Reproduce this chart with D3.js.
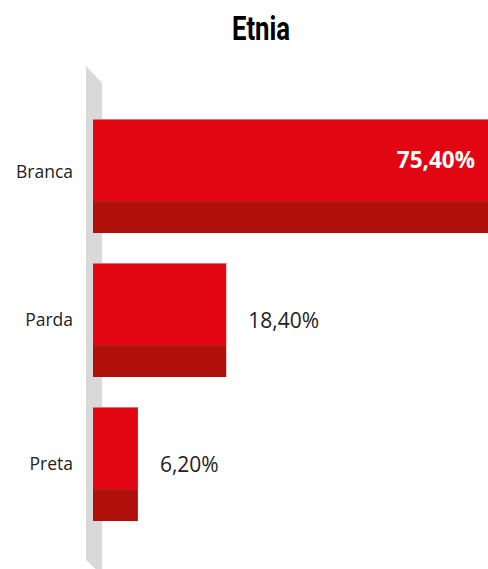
<!DOCTYPE html>
<html><head><meta charset="utf-8">
<script src="https://cdn.jsdelivr.net/npm/d3@7"></script>
<style>html,body{margin:0;padding:0;background:#fff;overflow:hidden}</style>
</head><body>
<script>
const categories = ["Branca", "Parda", "Preta"];
const values = [75.4, 18.4, 6.2];
const labels = ["75,40%", "18,40%", "6,20%"];
const title = "Etnia";

const W = 488, H = 569;
const svg = d3.select("body").append("svg").attr("width", W).attr("height", H);

const x = d3.scaleLinear().domain([0, 100]).range([93, 817]);
const y = d3.scaleBand().domain(categories).range([104, 536]).paddingInner(30/144).paddingOuter(15/144);

// wall
svg.append("path")
  .attr("d", "M86,66 L102,83 L102,575 L86,560 Z")
  .attr("fill", "#d9d9d9");

svg.append("text").attr("transform", "translate(261,40) scale(0.78,1)").attr("text-anchor", "middle")
  .attr("font-family", "'Roboto', 'Liberation Sans', sans-serif")
  .attr("font-weight", "bold").attr("font-size", 33).attr("fill", "#000").text(title);

const bw = y.bandwidth();
const topH = bw * 0.72;
const g = svg.selectAll("g.bar").data(categories).enter().append("g");
g.append("rect").attr("x", x(0)).attr("y", d => y(d))
  .attr("width", (d, i) => x(values[i]) - x(0)).attr("height", topH).attr("fill", "#e20613");
g.append("rect").attr("x", x(0)).attr("y", d => y(d) + topH)
  .attr("width", (d, i) => x(values[i]) - x(0)).attr("height", bw - topH).attr("fill", "#b0100c");
g.append("rect").attr("x", x(0)).attr("y", d => y(d))
  .attr("width", (d, i) => x(values[i]) - x(0)).attr("height", 1).attr("fill", "#ee6a72");

// category labels
svg.selectAll("text.cat").data(categories).enter().append("text")
  .attr("x", 73).attr("y", (d, i) => y(d) + bw / 2 + 6 - (i === 0 ? 4 : 0))
  .attr("text-anchor", "end")
  .attr("font-family", "'Open Sans', sans-serif").attr("font-size", 17.5).attr("fill", "#222")
  .text(d => d);

// value labels
svg.selectAll("text.val").data(categories).enter().append("text")
  .attr("x", (d, i) => x(values[i]) > W ? 475 : x(values[i]) + 22)
  .attr("y", d => y(d) + (y(d) === y(categories[0]) ? 49 : bw / 2 + 8))
  .attr("text-anchor", (d, i) => x(values[i]) > W ? "end" : "start")
  .attr("font-family", "'Open Sans', sans-serif")
  .attr("font-size", (d, i) => x(values[i]) > W ? 22.5 : 21)
  .attr("font-weight", (d, i) => x(values[i]) > W ? "bold" : "normal")
  .attr("fill", (d, i) => x(values[i]) > W ? "#fff" : "#222")
  .text((d, i) => labels[i]);
</script>
</body></html>
